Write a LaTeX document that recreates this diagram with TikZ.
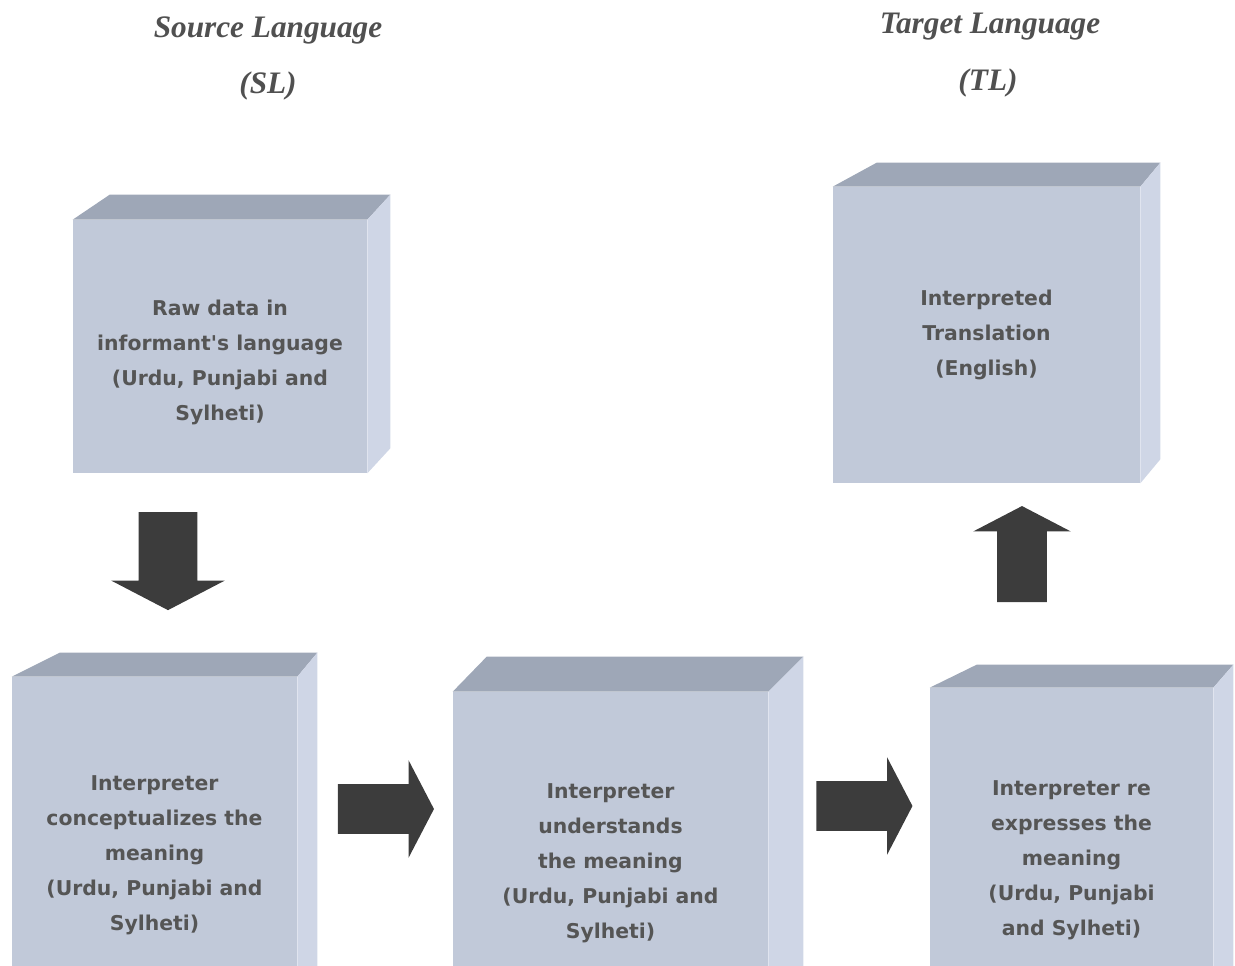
\documentclass[tikz,border=0pt]{standalone}
\usepackage{fontspec}
\setmainfont{Liberation Serif}
\newfontfamily\boxfont{DejaVu Sans}
\usetikzlibrary{shapes.arrows,calc}

\definecolor{frontcol}{HTML}{C1C9D9}
\definecolor{topcol}{HTML}{9EA7B7}
\definecolor{sidecol}{HTML}{CFD6E6}
\definecolor{boxtext}{HTML}{555555}
\definecolor{arrowcol}{HTML}{3C3C3C}
\definecolor{titlecol}{HTML}{505050}

\begin{document}
\begin{tikzpicture}[x=0.02cm, y=-0.02cm,
      front/.style={rectangle, fill=frontcol, inner sep=0pt, align=center, text=boxtext,
        font=\fontsize{11.6}{19.9}\selectfont\boxfont\bfseries},
      blockarrow/.style={single arrow, fill=arrowcol, inner xsep=0pt, inner ysep=0.49cm,
        minimum height=1.92cm, single arrow head extend=0.48cm, single arrow tip angle=125},
      title/.style={text=titlecol, font=\fontsize{17.8}{20}\selectfont\bfseries\itshape}]

    \useasboundingbox (0,0) rectangle (1235,965);
    \clip (0,0) rectangle (1235,965);

    % titles
    \node[title] (sl) at (268,30) {Source Language};
    \node[title] (slshort) at (268,86) {(SL)};
    \node[title] (tl) at (990,27) {Target Language};
    \node[title] (tlshort) at (988,83) {(TL)};

    % front faces of the boxes
    \node[front, minimum width=5.88cm, minimum height=5.06cm] (raw) at (220,346.5)
      {\mbox{}\\[7pt]Raw data in\\informant's language\\(Urdu, Punjabi and\\Sylheti)};
    \node[front, minimum width=5.70cm, minimum height=7.12cm] (concept) at (154.5,855)
      {Interpreter\\conceptualizes the\\meaning\\(Urdu, Punjabi and\\Sylheti)};
    \node[front, minimum width=6.30cm, minimum height=6.84cm] (understand) at (610.5,863)
      {Interpreter\\understands\\the meaning\\(Urdu, Punjabi and\\Sylheti)};
    \node[front, minimum width=5.66cm, minimum height=6.88cm] (reexpress) at (1071.5,860)
      {Interpreter re\\expresses the\\meaning\\(Urdu, Punjabi\\and Sylheti)};
    \node[front, minimum width=6.14cm, minimum height=5.92cm] (translation) at (986.5,335)
      {Interpreted\\Translation\\(English)};

    % top and side faces
    \foreach \n/\l/\r/\d in {raw/37/23/25, concept/48/20/24, understand/34/35/35,
                             reexpress/47/20/23, translation/44/20/24} {
      \fill[topcol] (\n.north west) -- ++(\l,-\d) -- ($(\n.north east)+(\r,-\d)$)
        -- (\n.north east) -- cycle;
      \fill[sidecol] (\n.north east) -- ++(\r,-\d) -- ($(\n.south east)+(\r,-\d)$)
        -- (\n.south east) -- cycle;
    }

    % block arrows
    \node[blockarrow, rotate=-90, minimum height=1.96cm, inner ysep=0.58cm,
          single arrow head extend=0.55cm] (down) at (168,553.5) {};
    \node[blockarrow] (right1) at (379.5,809) {};
    \node[blockarrow] (right2) at (858,806) {};
    \node[blockarrow, rotate=90] (up) at (1022,560.5) {};

    \end{tikzpicture}
\end{document}
